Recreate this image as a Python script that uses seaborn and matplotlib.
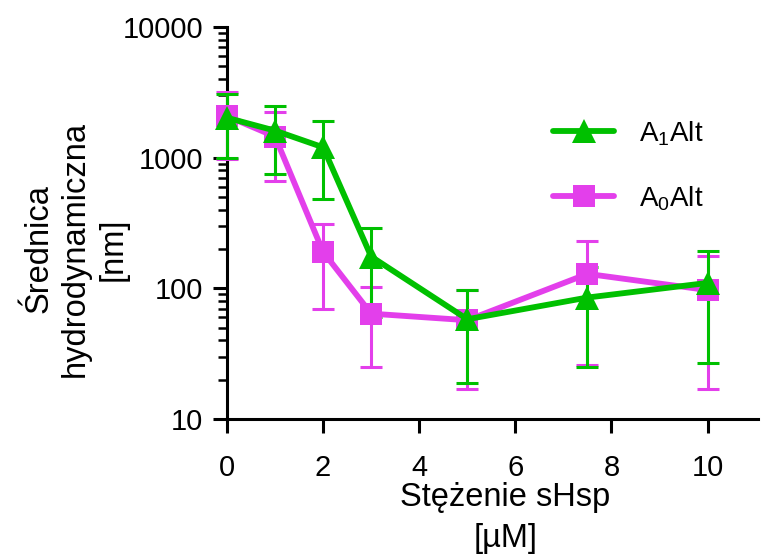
import matplotlib
matplotlib.use("Agg")
import matplotlib.pyplot as plt
import matplotlib.ticker as mticker
import numpy as np
import pandas as pd
import seaborn as sns

# sHsp concentration [µM]
conc = [0, 1, 2, 3, 5, 7.5, 10]

# A1Alt: mean hydrodynamic diameter [nm] and SD
a1_mean = [2020, 1610, 1200, 175, 58, 85, 110]
a1_sd = [1030, 860, 720, 115, 39, 60, 83]

# A0Alt: mean hydrodynamic diameter [nm] and SD
a0_mean = [2080, 1450, 190, 64, 57, 129, 97]
a0_sd = [1100, 790, 120, 39, 40, 103, 80]

series_names = ["A$_\\mathregular{1}$Alt", "A$_\\mathregular{0}$Alt"]
green = "#00C000"
magenta = "#E33FEB"

x_ticks = [0, 2, 4, 6, 8, 10]
y_ticks = [10, 100, 1000, 10000]

sns.set_theme(style="ticks")
plt.rcParams["font.family"] = ["Liberation Sans", "DejaVu Sans"]
plt.rcParams["mathtext.fontset"] = "custom"
plt.rcParams["mathtext.rm"] = "Liberation Sans"
plt.rcParams["text.color"] = "black"

fig = plt.figure(figsize=(7.63, 5.57), dpi=100)
ax = fig.add_axes([0.2975, 0.2478, 0.696, 0.7037])

df = pd.concat([
    pd.DataFrame({"conc": conc, "d": a0_mean, "sd": a0_sd, "probe": series_names[1]}),
    pd.DataFrame({"conc": conc, "d": a1_mean, "sd": a1_sd, "probe": series_names[0]}),
])

styles = {
    series_names[1]: dict(color=magenta, marker="s", ms=16),
    series_names[0]: dict(color=green, marker="^", ms=17),
}

for name in [series_names[1], series_names[0]]:
    sub = df[df["probe"] == name]
    st = styles[name]
    ax.errorbar(sub["conc"], sub["d"], yerr=sub["sd"], fmt="none",
                ecolor=st["color"], elinewidth=2.2, capsize=8, capthick=2.2,
                clip_on=False, zorder=3)
    sns.lineplot(data=sub, x="conc", y="d", ax=ax, color=st["color"],
                 linewidth=4.2, marker=st["marker"], markersize=st["ms"],
                 markeredgewidth=0, label=name, clip_on=False, zorder=4,
                 estimator=None)

ax.set_yscale("log")
ax.set_ylim(10, 10000)
ax.set_xlim(0, 11.05)
ax.set_xticks(x_ticks)
ax.set_yticks(y_ticks)
ax.yaxis.set_major_formatter(mticker.FuncFormatter(lambda v, p: f"{int(v)}"))
ax.yaxis.set_minor_locator(mticker.LogLocator(base=10, subs=np.arange(2, 10)))
ax.yaxis.set_minor_formatter(mticker.NullFormatter())

for s in ["top", "right"]:
    ax.spines[s].set_visible(False)
for s in ["left", "bottom"]:
    ax.spines[s].set_linewidth(2.2)
    ax.spines[s].set_color("black")

ax.tick_params(axis="both", which="major", length=10, width=2.2, color="black",
               labelsize=21, labelcolor="black")
ax.tick_params(axis="x", which="major", pad=15)
ax.tick_params(axis="y", which="major", pad=7)
ax.tick_params(axis="y", which="minor", length=6.5, width=1.8, color="black")

ax.set_xlabel("Stężenie sHsp\n[µM]", fontsize=23.5, color="black",
              linespacing=1.45, va="top")
ax.set_ylabel("Średnica\nhydrodynamiczna\n[nm]", fontsize=23.5, color="black",
              linespacing=1.25)
ax.xaxis.set_label_coords(0.524, -0.16)
ax.yaxis.set_label_coords(-0.186, 0.434)

h, l = ax.get_legend_handles_labels()
order = [l.index(series_names[0]), l.index(series_names[1])]
ax.legend([h[i] for i in order], [l[i] for i in order], loc="upper left",
          bbox_to_anchor=(0.614, 0.765), frameon=False, fontsize=20,
          handlelength=2.2, handletextpad=0.9, labelspacing=1.3,
          borderpad=0, borderaxespad=0, labelcolor="black")

fig.savefig("out.png", dpi=100, facecolor="white")
